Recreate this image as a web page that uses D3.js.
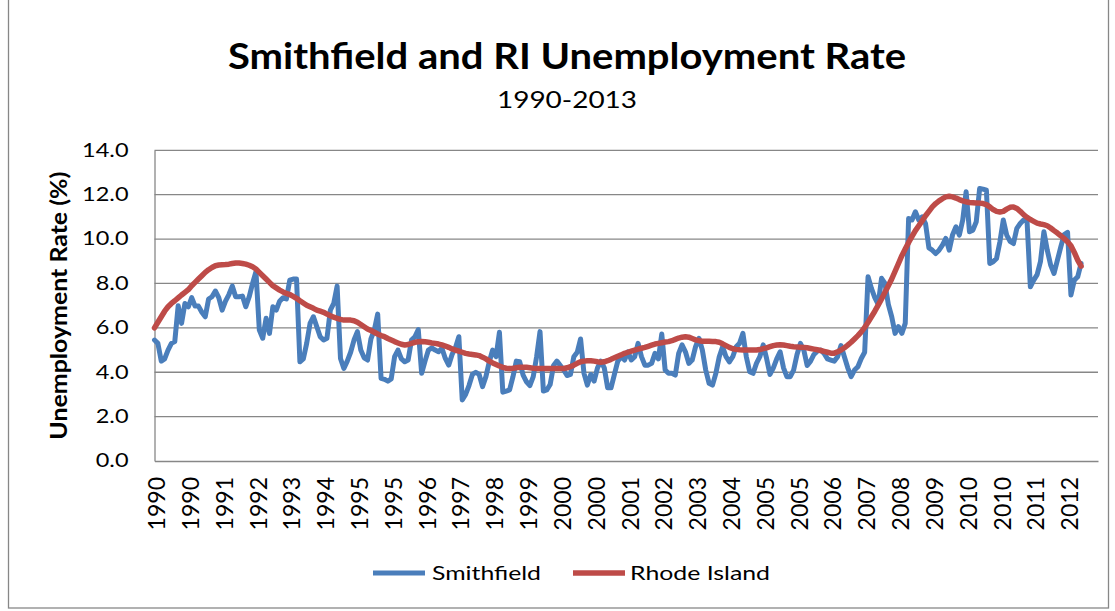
<!DOCTYPE html>
<html>
<head>
<meta charset="utf-8">
<script src="https://cdn.jsdelivr.net/npm/d3@7"></script>
<style>
  body { margin: 0; background: #fff; }
  svg { display: block; }
  text { font-family: Lato, "Open Sans", sans-serif; fill: #000; }
</style>
</head>
<body>
<svg id="chart" width="1115" height="611"></svg>
<script>
// Monthly categories start in January 1990; the axis has room through April 2013.
const startYear = 1990;
const monthCount = 280;
const labelEvery = 10;

// Category labels shown on the horizontal axis (one every ten months).
const tickLabels = ["1990", "1990", "1991", "1992", "1993", "1994", "1995", "1995",
  "1996", "1997", "1998", "1999", "2000", "2000", "2001", "2002", "2003", "2004",
  "2005", "2005", "2006", "2007", "2008", "2009", "2010", "2010", "2011", "2012"];

const yTicks = [0, 2, 4, 6, 8, 10, 12, 14];

// Smithfield monthly unemployment rate (%), not seasonally adjusted.
const smithfield = [
  5.45, 5.3, 4.5, 4.6, 5.0, 5.3, 5.38, 7.0, 6.2, 7.1,
  6.95, 7.36, 6.98, 6.98, 6.7, 6.5, 7.3, 7.4, 7.66, 7.36,
  6.8, 7.2, 7.5, 7.88, 7.4, 7.4, 7.43, 6.95, 7.4, 8.0,
  8.53, 5.9, 5.53, 6.43, 5.75, 6.95, 6.8, 7.2, 7.36, 7.3,
  8.15, 8.2, 8.2, 4.47, 4.6, 5.3, 6.2, 6.5, 6.05, 5.6,
  5.45, 5.53, 6.8, 7.1, 7.88, 4.62, 4.17, 4.5, 4.9, 5.45,
  5.83, 5.0, 4.65, 4.55, 5.5, 5.9, 6.62, 3.72, 3.68, 3.6,
  3.7, 4.7, 5.0, 4.6, 4.47, 4.55, 5.45, 5.6, 5.92, 3.95,
  4.5, 5.0, 5.1, 5.0, 4.92, 5.08, 4.62, 4.32, 4.8, 5.1,
  5.6, 2.75, 3.0, 3.4, 3.9, 4.0, 3.9, 3.35, 3.8, 4.47,
  5.0, 4.7, 5.8, 3.1, 3.15, 3.2, 3.8, 4.5, 4.47, 3.87,
  3.57, 3.4, 3.8, 4.7, 5.83, 3.15, 3.2, 3.45, 4.3, 4.5,
  4.3, 4.1, 3.85, 3.9, 4.7, 4.9, 5.5, 3.95, 3.42, 3.9,
  3.6, 4.2, 4.5, 4.2, 3.3, 3.3, 3.9, 4.5, 4.7, 4.55,
  4.92, 4.55, 4.7, 5.3, 4.7, 4.32, 4.32, 4.4, 4.85, 4.6,
  5.72, 4.1, 3.95, 3.95, 3.87, 4.85, 5.23, 4.92, 4.4, 4.55,
  5.15, 5.53, 5.0, 4.1, 3.5, 3.42, 3.95, 4.7, 5.15, 4.7,
  4.47, 4.7, 5.15, 5.3, 5.75, 4.7, 4.02, 3.95, 4.4, 4.7,
  5.23, 4.62, 3.9, 4.2, 4.6, 4.92, 4.2, 3.8, 3.8, 4.1,
  4.8, 5.3, 5.0, 4.3, 4.5, 4.8, 4.95, 5.0, 4.85, 4.6,
  4.55, 4.5, 4.7, 5.2, 4.7, 4.2, 3.8, 4.1, 4.25, 4.62,
  4.9, 8.3, 7.78, 7.36, 7.06, 8.23, 8.0, 7.06, 6.5, 5.75,
  6.05, 5.75, 6.2, 10.93, 10.86, 11.23, 10.86, 11.0, 10.7, 9.6,
  9.5, 9.35, 9.5, 9.73, 10.03, 9.5, 10.2, 10.55, 10.18, 10.86,
  12.13, 10.33, 10.4, 10.78, 12.28, 12.25, 12.2, 8.9, 8.98, 9.13,
  9.88, 10.86, 10.18, 9.9, 9.8, 10.48, 10.7, 10.86, 10.86, 7.85,
  8.15, 8.4, 9.0, 10.33, 9.5, 8.83, 8.45, 9.05, 9.65, 10.2,
  10.3, 7.48, 8.15, 8.3, 8.9
];

// Rhode Island monthly unemployment rate (%), seasonally adjusted.
const rhodeIsland = [
  6.0, 6.25, 6.5, 6.75, 6.95, 7.1, 7.22, 7.35, 7.48, 7.6,
  7.72, 7.9, 8.05, 8.2, 8.35, 8.5, 8.62, 8.72, 8.8, 8.83,
  8.84, 8.85, 8.87, 8.9, 8.92, 8.92, 8.9, 8.87, 8.82, 8.75,
  8.65, 8.5, 8.35, 8.2, 8.05, 7.9, 7.8, 7.7, 7.62, 7.55,
  7.5, 7.42, 7.33, 7.22, 7.12, 7.02, 6.95, 6.88, 6.8, 6.75,
  6.7, 6.62, 6.55, 6.48, 6.43, 6.38, 6.35, 6.35, 6.35, 6.32,
  6.25, 6.15, 6.05, 5.95, 5.88, 5.8, 5.72, 5.65, 5.6, 5.52,
  5.45, 5.38, 5.32, 5.26, 5.23, 5.25, 5.3, 5.35, 5.37, 5.38,
  5.37, 5.35, 5.32, 5.3, 5.27, 5.23, 5.18, 5.12, 5.05, 5.0,
  4.95, 4.9, 4.85, 4.82, 4.8, 4.78, 4.75, 4.68, 4.6, 4.5,
  4.42, 4.35, 4.28, 4.22, 4.18, 4.17, 4.18, 4.2, 4.22, 4.22,
  4.22, 4.2, 4.18, 4.17, 4.17, 4.17, 4.17, 4.17, 4.17, 4.17,
  4.17, 4.17, 4.2, 4.25, 4.32, 4.4, 4.47, 4.5, 4.52, 4.52,
  4.5, 4.47, 4.45, 4.47, 4.52, 4.58, 4.65, 4.72, 4.78, 4.85,
  4.9, 4.95, 5.0, 5.04, 5.08, 5.12, 5.17, 5.22, 5.27, 5.3,
  5.33, 5.36, 5.38, 5.42, 5.48, 5.54, 5.58, 5.6, 5.58, 5.52,
  5.46, 5.42, 5.4, 5.4, 5.4, 5.39, 5.38, 5.35, 5.28, 5.2,
  5.12, 5.06, 5.03, 5.01, 5.0, 5.0, 5.0, 5.0, 5.0, 5.02,
  5.06, 5.1, 5.15, 5.2, 5.23, 5.24, 5.23, 5.2, 5.17, 5.15,
  5.14, 5.13, 5.12, 5.1, 5.07, 5.04, 5.01, 4.98, 4.94, 4.9,
  4.86, 4.86, 4.92, 5.0, 5.1, 5.22, 5.35, 5.5, 5.65, 5.82,
  6.02, 6.25, 6.5, 6.75, 7.02, 7.3, 7.6, 7.9, 8.2, 8.55,
  8.9, 9.25, 9.55, 9.85, 10.12, 10.38, 10.6, 10.82, 11.05, 11.25,
  11.45, 11.6, 11.72, 11.82, 11.9, 11.93, 11.9, 11.85, 11.78, 11.72,
  11.68, 11.65, 11.64, 11.63, 11.62, 11.6, 11.55, 11.45, 11.33, 11.25,
  11.22, 11.25, 11.35, 11.43, 11.45, 11.38, 11.25, 11.1, 10.98, 10.88,
  10.8, 10.72, 10.68, 10.65, 10.6, 10.5, 10.38, 10.27, 10.15, 10.02,
  9.88, 9.7, 9.4, 9.05, 8.78
];

const seriesNames = ["Smithfield", "Rhode Island"];
const seriesColors = ["#4A7EBB", "#BE4B48"];
const seriesWidths = [5, 5.5];

const svg = d3.select("#chart");
const gridColor = "#878787";

// Outer chart frame
svg.append("rect")
  .attr("x", 8.5).attr("y", -2).attr("width", 1100).attr("height", 610)
  .attr("fill", "none").attr("stroke", gridColor).attr("stroke-width", 1.3);

const plot = { left: 154.5, right: 1098, top: 150.3, bottom: 461 };

const x = d3.scaleLinear().domain([0, monthCount - 1]).range([plot.left, plot.right]);
const y = d3.scaleLinear().domain([0, 14]).range([plot.bottom, plot.top]);

// Stretch a text element horizontally by factor k
function widen(sel, k) {
  sel.each(function () {
    const len = this.getComputedTextLength();
    d3.select(this).attr("textLength", len * k).attr("lengthAdjust", "spacingAndGlyphs");
  });
}
function fitTo(sel, w) {
  sel.attr("textLength", w).attr("lengthAdjust", "spacingAndGlyphs");
}

// Horizontal gridlines
svg.append("g")
  .selectAll("line")
  .data(yTicks.filter(d => d > 0))
  .join("line")
  .attr("x1", plot.left).attr("x2", plot.right)
  .attr("y1", d => y(d)).attr("y2", d => y(d))
  .attr("stroke", gridColor).attr("stroke-width", 1.3);

// Y axis
const yAxis = d3.axisLeft(y).tickValues(yTicks).tickFormat(d3.format(".1f")).tickSize(0).tickPadding(26);
const gy = svg.append("g").attr("transform", `translate(${plot.left},0)`).call(yAxis);
gy.select(".domain").attr("stroke", gridColor).attr("stroke-width", 1.3);
gy.selectAll("text").attr("font-size", 18.5).attr("font-family", "Lato, sans-serif").attr("fill", "#000");
widen(gy.selectAll("text"), 1.27);

// X axis: category labels every ten months, rotated
const xAxis = d3.axisBottom(x)
  .tickValues(d3.range(0, monthCount, labelEvery).slice(0, tickLabels.length))
  .tickFormat((d, i) => tickLabels[i])
  .tickSize(0);
const gx = svg.append("g").attr("transform", `translate(0,${plot.bottom})`).call(xAxis);
gx.select(".domain").attr("stroke", gridColor).attr("stroke-width", 1.3);
gx.selectAll("text")
  .attr("font-size", 23).attr("font-family", "Lato, sans-serif").attr("fill", "#000")
  .attr("text-anchor", "end")
  .attr("transform", "rotate(-90)")
  .attr("x", -16).attr("y", 0).attr("dy", "0.44em");

// Series lines
const line = d3.line().x((d, i) => x(i)).y(d => y(d));
[smithfield, rhodeIsland].forEach((vals, k) => {
  svg.append("path")
    .datum(vals)
    .attr("d", line)
    .attr("fill", "none")
    .attr("stroke", seriesColors[k])
    .attr("stroke-width", seriesWidths[k])
    .attr("stroke-linejoin", "round")
    .attr("stroke-linecap", "round");
});

// Title and subtitle
fitTo(svg.append("text").attr("x", 567).attr("y", 69).attr("text-anchor", "middle")
  .attr("font-size", 36).attr("font-weight", "bold")
  .text("Smithfield and RI Unemployment Rate"), 678);
fitTo(svg.append("text").attr("x", 567).attr("y", 108).attr("text-anchor", "middle")
  .attr("font-size", 23)
  .text("1990-2013"), 140);

// Y axis title
fitTo(svg.append("text")
  .attr("transform", `translate(66.5,${(plot.top + plot.bottom) / 2}) rotate(-90)`)
  .attr("text-anchor", "middle")
  .attr("font-size", 22).attr("font-weight", "bold")
  .text("Unemployment Rate (%)"), 268);

// Legend
const legend = [
  { x1: 373, x2: 425, tx: 432, w: 109 },
  { x1: 573, x2: 625, tx: 630, w: 140 }
];
legend.forEach((L, k) => {
  svg.append("line")
    .attr("x1", L.x1).attr("x2", L.x2).attr("y1", 573).attr("y2", 573)
    .attr("stroke", seriesColors[k]).attr("stroke-width", seriesWidths[k]);
  fitTo(svg.append("text").attr("x", L.tx).attr("y", 580)
    .attr("font-size", 20).text(seriesNames[k]), L.w);
});
</script>
</body>
</html>
